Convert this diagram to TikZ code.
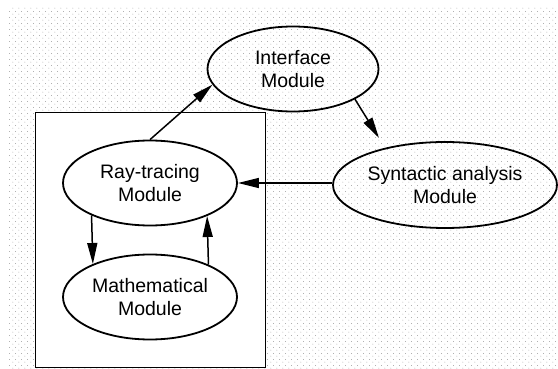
\documentclass[tikz,border=0pt]{standalone}
\usepackage{fontspec}
\setmainfont{Liberation Sans}
\usetikzlibrary{shapes.geometric,arrows.meta,patterns.meta}
\tikzdeclarepattern{name=stipple, type=uncolored,
  bounding box={(0pt,0pt) and (6pt,6pt)}, tile size={(6pt,6pt)},
  code={\fill (1pt,1pt) circle (0.5pt); \fill (4pt,4pt) circle (0.5pt);}}
\begin{document}
\begin{tikzpicture}[x=1pt,y=-1pt,
  mod/.style={ellipse, draw, line width=1.8pt, inner sep=0pt, align=center,
    font=\fontsize{19.5}{22.5}\selectfont},
  arr/.style={-{Triangle[length=21pt,width=10pt]}, line width=1.5pt},
  frame/.style={draw, line width=1pt, fill=white, inner sep=0pt, anchor=north west}]
\useasboundingbox (0,0) rectangle (558,369);
\fill[pattern=stipple, pattern color=black!42] (9,8) rectangle (558,369);
\node[frame, minimum width=230pt, minimum height=255pt] (box) at (35,112) {};
\node[mod, minimum width=171pt, minimum height=85pt] (intf) at (293,69) {Interface\\Module};
\node[mod, minimum width=224pt, minimum height=86pt] (syn) at (445,185) {Syntactic analysis\\Module};
\node[mod, minimum width=174pt, minimum height=85pt] (ray) at (150,183) {Ray-tracing\\Module};
\node[mod, minimum width=174pt, minimum height=85pt] (math) at (150,297) {Mathematical\\Module};
\coordinate (synin) at (379,138);
\draw[arr] (ray.north) -- (intf.191);
\draw[arr] (intf.334) -- (synin);
\draw[arr] (syn.west |- ray.east) -- (ray.east);
\draw[arr] (ray.209.7) -- (math.150.3);
\draw[arr] (math.29.7) -- (ray.330.3);
\end{tikzpicture}
\end{document}
